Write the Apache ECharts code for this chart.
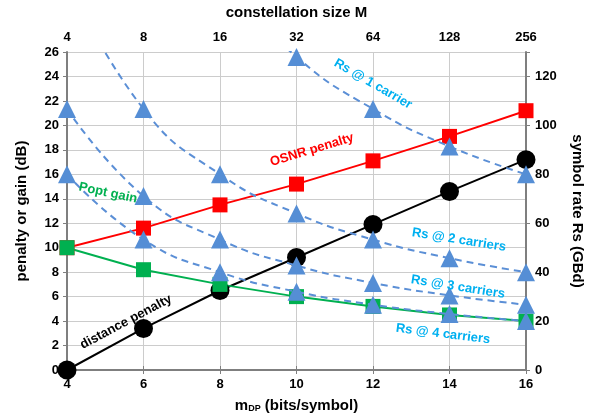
<!DOCTYPE html>
<html><head><meta charset="utf-8">
<script src="https://cdn.jsdelivr.net/npm/echarts@6/dist/echarts.min.js"></script>
<style>html,body{margin:0;padding:0;background:#fff}#c{width:594px;height:418px}</style>
</head><body><div id="c"></div>
<script>
var mDP = [4, 6, 8, 10, 12, 14, 16];
var constellationM = ['4', '8', '16', '32', '64', '128', '256'];
var osnrPenalty = [10.0, 11.6, 13.5, 15.2, 17.1, 19.1, 21.2];
var distancePenalty = [0, 3.4, 6.5, 9.2, 11.9, 14.6, 17.2];
var poptGain = [10.0, 8.2, 7.0, 6.0, 5.2, 4.5, 4.0];
var rs1m = [8, 10, 12, 14, 16];
var rs1 = [160, 128, 106.7, 91.4, 80];
var rs2m = [4, 6, 8, 10, 12, 14, 16];
var rs2 = [160, 106.7, 80, 64, 53.3, 45.7, 40];
var rs3m = [4, 6, 8, 10, 12, 14, 16];
var rs3 = [106.7, 71.1, 53.3, 42.7, 35.6, 30.5, 26.7];
var rs4m = [4, 6, 8, 10, 12, 14, 16];
var rs4 = [80, 53.3, 40, 32, 26.7, 22.9, 20];

function pairs(xs, ys) { return xs.map(function (x, i) { return [x, ys[i]]; }); }

var FONT = '"Liberation Sans", Arial, sans-serif';
var chart = echarts.init(document.getElementById('c'), null, {renderer: 'canvas'});
var lbl = {color: '#000', fontWeight: 'bold', fontSize: 13, fontFamily: FONT};
var axisLine = {show: true, lineStyle: {color: '#7f7f7f', width: 2}};
var tick = {show: true, length: 4, lineStyle: {color: '#7f7f7f'}};
var titleStyle = {fontSize: 15, fontWeight: 'bold', fontFamily: FONT, color: '#000'};

function rsSeries(name, data) {
  return {
    name: name, type: 'line', yAxisIndex: 1, smooth: true, clip: true,
    data: data, symbol: 'triangle', symbolSize: 18, z: 5,
    lineStyle: {color: '#5b8fd6', width: 2, type: [7, 5]},
    itemStyle: {color: '#558ed5'}
  };
}

function note(text, x, y, deg, color) {
  return {
    type: 'text', x: x, y: y, rotation: deg * Math.PI / 180, z: 100,
    style: {
      text: text, fill: color, font: 'bold 13px ' + FONT,
      align: 'center', verticalAlign: 'middle'
    }
  };
}

chart.setOption({
  animation: false,
  backgroundColor: '#fff',
  grid: {left: 67, right: 68, top: 49, bottom: 46},
  xAxis: [{
    type: 'value', min: 4, max: 16, interval: 2, position: 'bottom',
    axisLine: axisLine, axisTick: tick,
    axisLabel: Object.assign({margin: 8}, lbl),
    splitLine: {show: true, lineStyle: {color: '#cccccc'}},
    name: '{a|m}{b|DP}{a| (bits/symbol)}', nameLocation: 'middle', nameGap: 28,
    nameTextStyle: {rich: {
      a: {fontSize: 15, fontWeight: 'bold', fontFamily: FONT, color: '#000'},
      b: {fontSize: 9, fontWeight: 'bold', fontFamily: FONT, color: '#000', verticalAlign: 'bottom', padding: [6, 0, 0, 0]}
    }}
  }, {
    type: 'value', min: 4, max: 16, interval: 2, position: 'top',
    axisLine: axisLine, axisTick: tick,
    axisLabel: Object.assign({margin: 8, formatter: function (v) {
      return constellationM[Math.round((v - 4) / 2)];
    }}, lbl),
    splitLine: {show: false},
    name: 'constellation size M', nameLocation: 'middle', nameGap: 32,
    nameTextStyle: titleStyle
  }],
  yAxis: [{
    type: 'value', min: 0, max: 26, interval: 2, position: 'left',
    axisLine: axisLine, axisTick: tick,
    axisLabel: Object.assign({margin: 8}, lbl),
    splitLine: {show: true, lineStyle: {color: '#cccccc'}},
    name: 'penalty or gain (dB)', nameLocation: 'middle', nameGap: 38,
    nameTextStyle: titleStyle
  }, {
    type: 'value', min: 0, max: 130, interval: 20, position: 'right',
    axisLine: axisLine, axisTick: tick,
    axisLabel: Object.assign({margin: 9, formatter: function (v) { return v > 120 ? '' : v; }}, lbl),
    splitLine: {show: false},
    name: 'symbol rate Rs (GBd)', nameLocation: 'middle', nameGap: 44, nameRotate: -90,
    nameTextStyle: titleStyle
  }],
  series: [
    {name: 'OSNR penalty', type: 'line', data: pairs(mDP, osnrPenalty), symbol: 'rect', symbolSize: 15,
      lineStyle: {color: '#ff0000', width: 2}, itemStyle: {color: '#ff0000'}, z: 3},
    {name: 'distance penalty', type: 'line', data: pairs(mDP, distancePenalty), symbol: 'circle', symbolSize: 19,
      lineStyle: {color: '#000', width: 2}, itemStyle: {color: '#000'}, z: 3},
    {name: 'Popt gain', type: 'line', data: pairs(mDP, poptGain), symbol: 'rect', symbolSize: 15,
      lineStyle: {color: '#00b050', width: 2}, itemStyle: {color: '#00b050'}, z: 3},
    rsSeries('Rs @ 1 carrier', pairs(rs1m, rs1)),
    rsSeries('Rs @ 2 carriers', pairs(rs2m, rs2)),
    rsSeries('Rs @ 3 carriers', pairs(rs3m, rs3)),
    rsSeries('Rs @ 4 carriers', pairs(rs4m, rs4))
  ],
  graphic: [
    note('OSNR penalty', 312, 150, 17, '#ff0000'),
    note('Popt gain', 108, 193, -12, '#00b050'),
    note('distance penalty', 126, 322, 28, '#000000'),
    note('Rs @ 1 carrier', 373, 84, -30, '#00b0f0'),
    note('Rs @ 2 carriers', 459, 240, -9, '#00b0f0'),
    note('Rs @ 3 carriers', 458, 287, -9, '#00b0f0'),
    note('Rs @ 4 carriers', 443, 334, -7, '#00b0f0')
  ]
});
</script></body></html>
